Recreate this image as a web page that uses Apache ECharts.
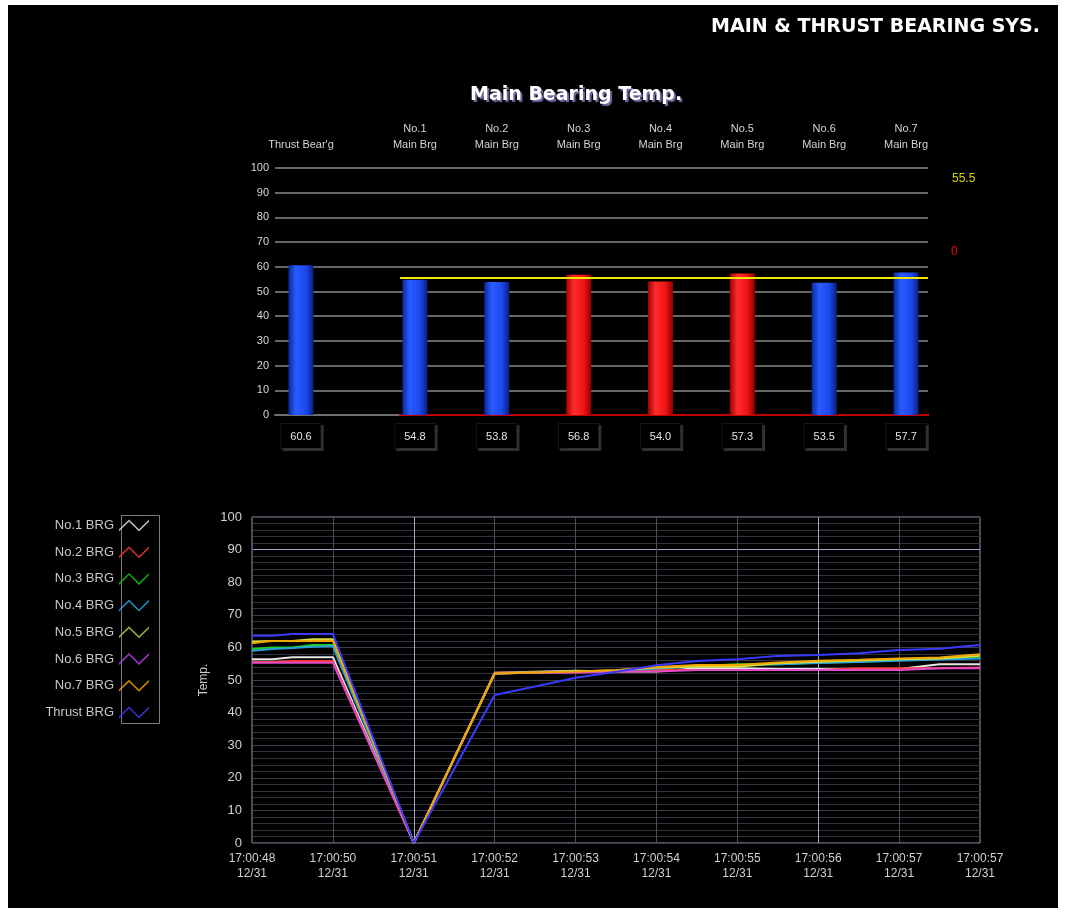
<!DOCTYPE html>
<html><head><meta charset="utf-8">
<script src="https://cdn.jsdelivr.net/npm/echarts@6/dist/echarts.min.js"></script>
<style>
html,body{margin:0;padding:0;background:#fff}
#c{width:1065px;height:913px;position:absolute;left:0;top:0}
#frame{position:absolute;left:0;top:0;width:1065px;height:913px;box-sizing:border-box;border-style:solid;border-color:#fff;border-width:5px 7px 5px 8px;pointer-events:none}
</style>
</head><body><div id="c"></div><div id="frame"></div>
<script>
// ---------- Top bar chart data ----------
const thrustName = ["Thrust Bear'g"];
const thrustValue = [60.6];
const thrustStatus = ['normal'];
const mainNames = ['No.1\nMain Brg','No.2\nMain Brg','No.3\nMain Brg','No.4\nMain Brg','No.5\nMain Brg','No.6\nMain Brg','No.7\nMain Brg'];
const mainValues = [54.8, 53.8, 56.8, 54.0, 57.3, 53.5, 57.7];
const mainStatus = ['normal','normal','alarm','alarm','alarm','normal','normal'];
const alarmLimit = 55.5;
const alarmCount = 0;

// ---------- Trend chart data ----------
const timeLabels = ['17:00:48','17:00:50','17:00:51','17:00:52','17:00:53','17:00:54','17:00:55','17:00:56','17:00:57','17:00:57'];
const dateLabel = '12/31';
const sampleTimes = [0, 0.25, 0.5, 0.75, 1, 2, 3, 3.5, 4, 4.5, 5, 5.5, 6, 6.5, 7, 7.5, 8, 8.5, 9];
const trendNames = ['No.1 BRG','No.2 BRG','No.3 BRG','No.4 BRG','No.5 BRG','No.6 BRG','No.7 BRG','Thrust BRG'];
const no1Brg   = [56.4, 56.4, 57.0, 57.0, 57.0, 0, 52.2, 52.5, 52.8, 52.6, 52.6, 53.6, 53.6, 53.4, 53.4, 53.4, 53.4, 54.8, 54.8];
const no2Brg   = [55.5, 55.5, 55.8, 55.8, 55.8, 0, 52.2, 52.3, 52.3, 52.6, 53.1, 53.1, 53.1, 53.1, 53.1, 53.6, 53.6, 53.6, 53.8];
const no3Brg   = [59.5, 60.0, 60.0, 60.7, 60.7, 0, 52.0, 52.3, 52.6, 52.8, 53.6, 54.3, 54.8, 54.8, 55.3, 55.6, 56.1, 56.6, 56.8];
const no4Brg   = [59.0, 59.5, 59.8, 60.2, 60.4, 0, 52.0, 52.3, 52.5, 52.8, 53.5, 54.2, 54.6, 54.8, 55.2, 55.5, 55.9, 56.3, 56.6];
const no5Brg   = [61.8, 62.0, 62.0, 62.5, 62.5, 0, 52.0, 52.3, 52.6, 53.0, 53.8, 54.1, 54.1, 55.1, 55.6, 56.0, 56.4, 56.6, 57.4];
const no6Brg   = [55.3, 55.3, 55.3, 55.3, 55.3, 0, 52.0, 52.2, 52.3, 52.6, 52.6, 53.1, 53.1, 53.1, 53.1, 53.1, 53.1, 53.6, 53.6];
const no7Brg   = [61.3, 62.0, 62.0, 62.0, 62.0, 0, 52.0, 52.3, 52.6, 53.0, 54.0, 54.6, 54.6, 55.4, 55.9, 56.2, 56.6, 56.9, 57.9];
const thrustBrg= [63.6, 63.6, 64.1, 64.1, 64.1, 0, 45.4, 48.0, 50.7, 52.5, 54.5, 55.8, 56.4, 57.4, 57.7, 58.2, 59.2, 59.6, 60.7];

// ---------- styling ----------
const SANS = "'Liberation Sans',Arial,sans-serif";
const trendColors = ['#e6e6e6','#ff3838','#18d018','#2aa0d8','#d8e040','#e04cc8','#f0a800','#3a3aff'];
const legendColors = ['#b4b4b4','#c83030','#10a810','#2a8cc0','#9aa838','#9a34c0','#c88a00','#3434c8'];
const trendSeries = [no1Brg,no2Brg,no3Brg,no4Brg,no5Brg,no6Brg,no7Brg,thrustBrg];

function barColor(status){
  const G = echarts.graphic.LinearGradient;
  if (status === 'alarm') {
    return new G(0,0,1,0,[{offset:0,color:'#a00000'},{offset:0.3,color:'#ff2c2c'},{offset:0.7,color:'#f01414'},{offset:1,color:'#8a0000'}]);
  }
  return new G(0,0,1,0,[{offset:0,color:'#0a2a9a'},{offset:0.3,color:'#2a5cff'},{offset:0.7,color:'#1c48ee'},{offset:1,color:'#0a1f7a'}]);
}
function barData(values, status){
  return values.map((v,i)=>({value:v, itemStyle:{color:barColor(status[i])}}));
}
const valueBox = {
  color:'#e4e4e4', fontSize:11, fontFamily:SANS,
  backgroundColor:'#000', borderColor:'#161616', borderWidth:1,
  padding:[7,9,6,9], shadowColor:'#303030', shadowOffsetX:2, shadowOffsetY:2, margin:9
};
const nameLabel = {color:'#d4d4d4', fontSize:11, fontFamily:SANS, margin:15, lineHeight:16, interval:0};
const hiddenY = {show:false, type:'value', min:0, max:100};

const chart = echarts.init(document.getElementById('c'));
const xGridColors = timeLabels.map((t,i)=> (i===2||i===7) ? '#a8a8c8' : '#4c4c5c');
const yGridColors = [0,1,2,3,4,5,6,7,8,9,10].map(i=> i===9 ? '#a8a8c8' : '#3e3e4a');

chart.setOption({
  backgroundColor:'#000',
  animation:false,
  title:[
    {text:'MAIN & THRUST BEARING SYS.', right:25, top:18, padding:0,
     textStyle:{color:'#fff', fontSize:19, fontWeight:'bold', fontFamily:'DejaVu Sans'}},
    {text:'Main Bearing Temp.', left:470, top:86, padding:0,
     textStyle:{color:'#fff', fontSize:19, fontWeight:'bold', fontFamily:'DejaVu Sans',
       textShadowColor:'#7868a8', textShadowOffsetX:2, textShadowOffsetY:2, textShadowBlur:1}},
    {text:String(alarmLimit), left:952, top:173, padding:0, textStyle:{color:'#d8d000', fontSize:12, fontWeight:'normal', fontFamily:SANS}},
    {text:String(alarmCount), left:951, top:246, padding:0, textStyle:{color:'#e01010', fontSize:12, fontWeight:'normal', fontFamily:SANS}}
  ],
  legend:{
    data:trendNames.map((n,k)=>({name:n, itemStyle:{color:legendColors[k]}})),
    orient:'vertical', align:'right', right:911, top:514,
    itemWidth:30, itemHeight:12, itemGap:13.7, symbolKeepAspect:false,
    icon:'path://M0,10L10,1L20,10L30,1L30,3L20,12L10,3L0,12Z',
    textStyle:{color:'#c8c8c8', fontSize:13, fontFamily:SANS}
  },
  graphic:[{type:'rect', left:119, top:513, shape:{width:38, height:208}, style:{fill:'none', stroke:'#7c7c7c', lineWidth:1}, silent:true}],
  grid:[
    {left:275, right:137, top:168, bottom:498},
    {left:260, width:82, top:168, bottom:498},
    {left:374, right:118, top:168, bottom:498},
    {left:400, right:137, top:168, bottom:498},
    {left:252, right:85, top:517, bottom:70, show:true, borderColor:'#9a9ab8', borderWidth:1, backgroundColor:'transparent'}
  ],
  xAxis:[
    {gridIndex:0, type:'category', data:[''], axisLine:{lineStyle:{color:'#707070', width:2}}, axisTick:{show:false}, axisLabel:{show:false}},
    {gridIndex:1, type:'category', data:thrustName, position:'bottom', axisLine:{show:false}, axisTick:{show:false},
     axisLabel:Object.assign({formatter:(v,i)=>thrustValue[i].toFixed(1)}, valueBox)},
    {gridIndex:1, type:'category', data:thrustName, position:'top', axisLine:{show:false}, axisTick:{show:false}, axisLabel:nameLabel},
    {gridIndex:2, type:'category', data:mainNames, position:'bottom', axisLine:{show:false}, axisTick:{show:false},
     axisLabel:Object.assign({formatter:(v,i)=>mainValues[i].toFixed(1), interval:0}, valueBox)},
    {gridIndex:2, type:'category', data:mainNames, position:'top', axisLine:{show:false}, axisTick:{show:false}, axisLabel:nameLabel},
    {gridIndex:3, type:'category', data:['',''], boundaryGap:false, axisLine:{lineStyle:{color:'#c00000', width:2}}, axisTick:{show:false}, axisLabel:{show:false}},
    {gridIndex:4, type:'value', min:0, max:9, interval:1,
     axisLine:{show:false}, axisTick:{show:false},
     axisLabel:{formatter:(v)=>timeLabels[Math.round(v)] + '\n' + dateLabel, color:'#d0d0d0', fontSize:12, fontFamily:SANS, lineHeight:15, margin:8},
     splitLine:{show:true, lineStyle:{color:xGridColors, width:1}}}
  ],
  yAxis:[
    {gridIndex:0, type:'value', min:0, max:100, interval:10,
     axisLine:{show:false}, axisTick:{show:false},
     axisLabel:{color:'#d8d8d8', fontSize:11, fontFamily:SANS, margin:6},
     splitLine:{lineStyle:{color:'#8a8a8a', width:1.5}}},
    Object.assign({gridIndex:1}, hiddenY),
    Object.assign({gridIndex:2}, hiddenY),
    Object.assign({gridIndex:3}, hiddenY),
    {gridIndex:4, type:'value', min:0, max:100, interval:10,
     name:'Temp.', nameLocation:'middle', nameGap:40, nameRotate:90,
     nameTextStyle:{color:'#d0d0d0', fontSize:12, fontFamily:SANS},
     axisLine:{show:false}, axisTick:{show:false},
     axisLabel:{color:'#d0d0d0', fontSize:13, fontFamily:SANS, margin:10},
     splitLine:{lineStyle:{color:yGridColors, width:1}},
     minorTick:{show:false, splitNumber:5},
     minorSplitLine:{show:true, lineStyle:{color:'#33333d', width:1}}}
  ],
  series:[
    {type:'bar', xAxisIndex:1, yAxisIndex:1, barWidth:25, data:barData(thrustValue, thrustStatus), silent:true},
    {type:'bar', xAxisIndex:3, yAxisIndex:2, barWidth:25, data:barData(mainValues, mainStatus), silent:true},
    {type:'line', xAxisIndex:5, yAxisIndex:3, data:[alarmLimit, alarmLimit], symbol:'none', silent:true,
     lineStyle:{color:'#f0e800', width:2}, z:5}
  ].concat(trendSeries.map((vals, k)=>({
    name:trendNames[k], type:'line', xAxisIndex:6, yAxisIndex:4, symbol:'none',
    data:sampleTimes.map((t,i)=>[t, vals[i]]),
    color:trendColors[k],
    lineStyle:{color:trendColors[k], width:2},
    z:3
  })))
});
</script>
</body></html>
